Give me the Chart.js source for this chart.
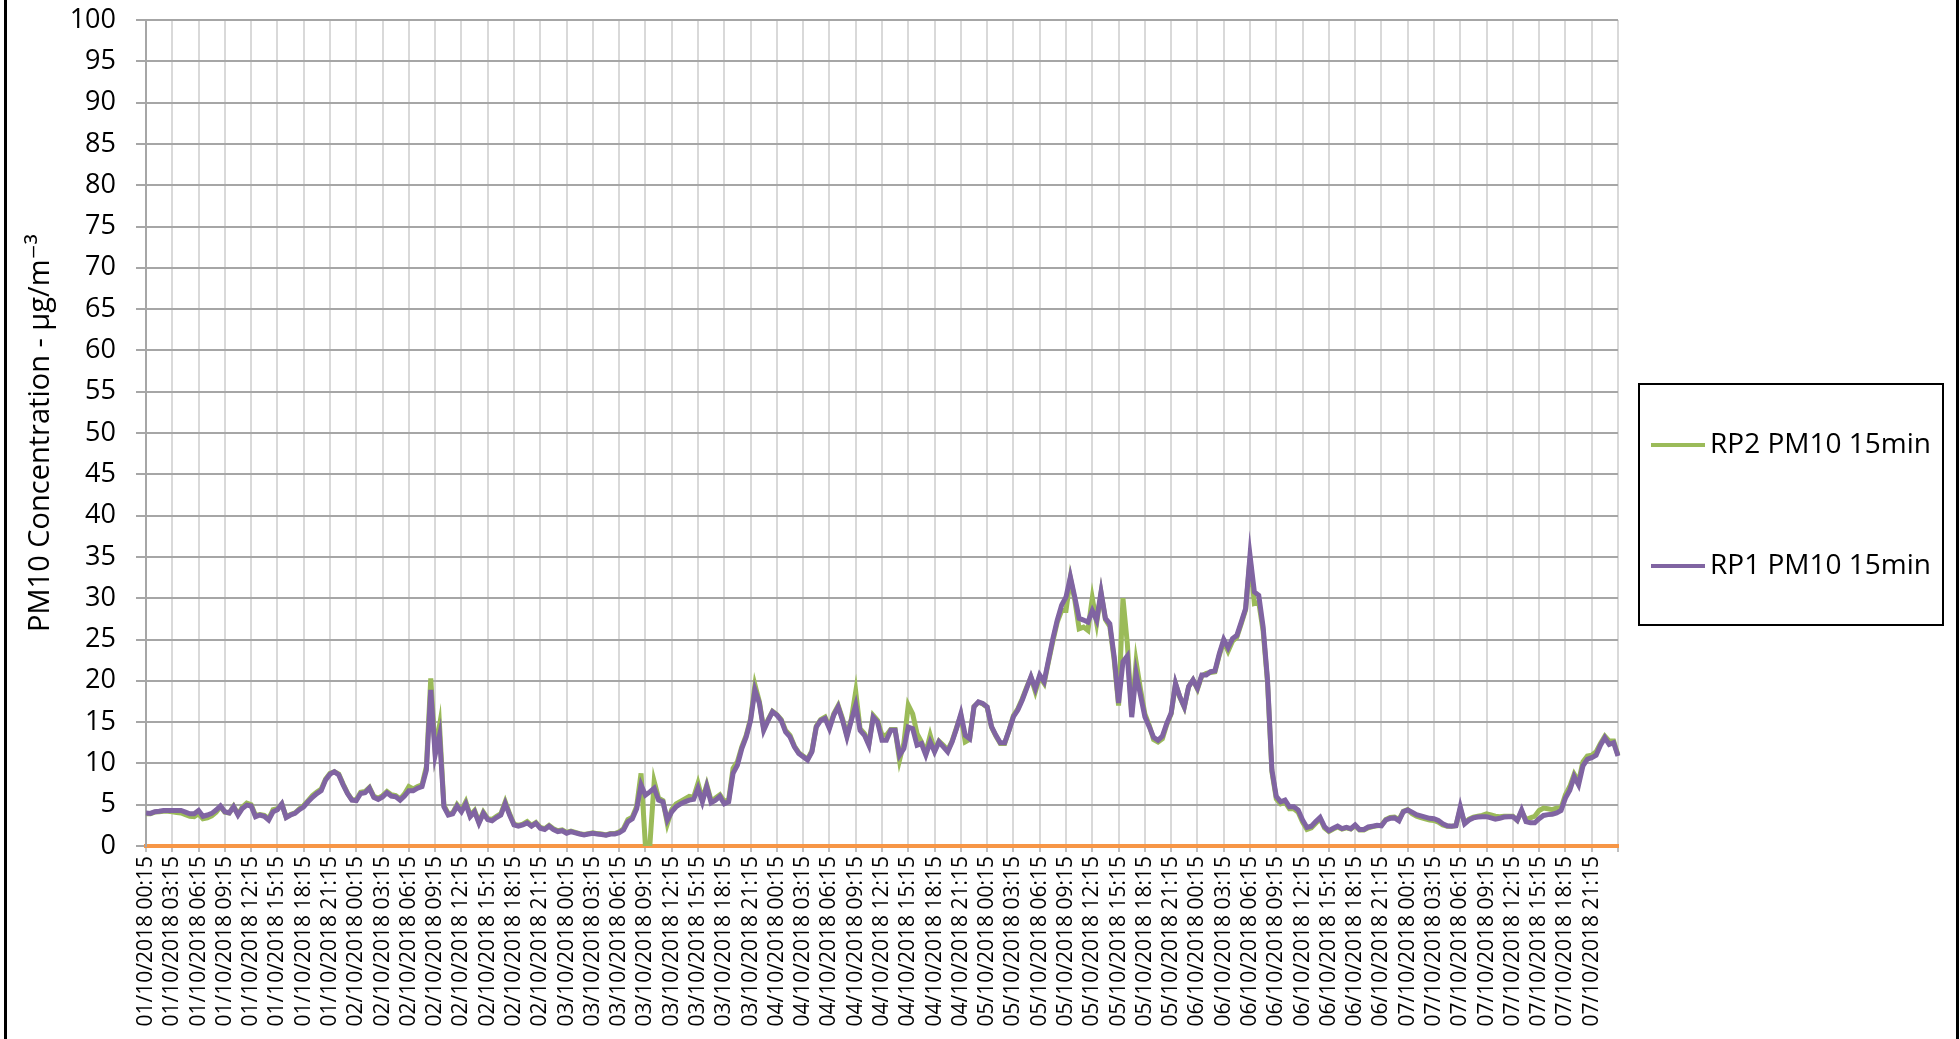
<!DOCTYPE html>
<html>
<head>
<meta charset="utf-8">
<script src="https://cdn.jsdelivr.net/npm/chart.js@4.4.1/dist/chart.umd.min.js"></script>
<style>
html, body { margin: 0; padding: 0; background: #fff; }
</style>
</head>
<body>
<canvas id="pmChart" width="1960" height="1039"></canvas>
<script>
// dias del periodo (lecturas cada 30 min desde las 00:15)
var dias = ["01/10/2018", "02/10/2018", "03/10/2018", "04/10/2018", "05/10/2018", "06/10/2018", "07/10/2018"];
var diaFinal = "08/10/2018 00:15";

// RP1 PM10 15min (morado)
var rp1Valores = [
  4.0, 3.95, 4.15, 4.2, 4.3, 4.3, 4.3, 4.3, 4.3, 4.1,
  3.9, 3.9, 4.3, 3.6, 3.75, 3.95, 4.35, 4.85, 4.15, 4.0,
  4.75, 3.75, 4.55, 4.95, 4.85, 3.55, 3.75, 3.6, 3.15, 4.15,
  4.4, 5.1, 3.45, 3.75, 3.95, 4.4, 4.75, 5.35, 5.9, 6.35,
  6.7, 8.0, 8.7, 9.0, 8.6, 7.4, 6.35, 5.55, 5.5, 6.35,
  6.45, 7.0, 5.9, 5.65, 5.95, 6.45, 6.05, 5.95, 5.55, 6.05,
  6.7, 6.7, 7.0, 7.2, 9.2, 18.9, 11.0, 13.4, 4.75, 3.75,
  3.9, 4.85, 4.15, 5.1, 3.55, 4.15, 2.75, 3.95, 3.2, 3.05,
  3.45, 3.75, 5.15, 3.75, 2.55, 2.4, 2.55, 2.8, 2.4, 2.75,
  2.15, 2.0, 2.4, 2.0, 1.75, 1.85, 1.55, 1.75, 1.6, 1.45,
  1.35, 1.45, 1.55, 1.45, 1.4, 1.3, 1.45, 1.45, 1.6, 1.95,
  2.95, 3.3, 4.5, 7.4, 6.15, 6.55, 7.0, 5.55, 5.35, 3.15,
  4.15, 4.75, 5.1, 5.35, 5.55, 5.65, 7.0, 5.35, 7.2, 5.25,
  5.55, 6.0, 5.1, 5.35, 8.8, 9.8, 11.8, 13.2, 15.2, 18.9,
  17.3, 14.0, 15.2, 16.25, 15.85, 15.2, 13.8, 13.2, 12.0, 11.2,
  10.8, 10.4, 11.4, 14.4, 15.2, 15.45, 14.2, 15.85, 16.85, 15.2,
  13.2, 15.2, 17.05, 14.0, 13.4, 12.2, 15.6, 15.0, 12.8, 12.8,
  14.0, 14.0, 11.0, 11.8, 14.4, 14.2, 12.2, 12.4, 11.0, 12.6,
  11.4, 12.6, 12.0, 11.4, 12.6, 14.2, 16.0, 13.4, 13.0, 16.85,
  17.45, 17.25, 16.85, 14.45, 13.4, 12.5, 12.5, 14.0, 15.65, 16.45,
  17.65, 19.05, 20.5, 19.05, 20.7, 19.9, 22.5, 25.1, 27.35, 29.15,
  30.15, 32.6, 30.15, 27.55, 27.35, 27.1, 28.5, 27.35, 30.75, 27.55,
  26.9, 22.9, 17.3, 22.3, 23.0, 15.6, 20.9, 18.25, 15.65, 14.45,
  13.15, 12.8, 13.3, 14.85, 16.1, 19.7, 18.05, 16.85, 19.3, 20.1,
  19.1, 20.7, 20.7, 21.1, 21.2, 23.3, 25.0, 24.0, 25.1, 25.5,
  27.1, 28.75, 35.2, 30.75, 30.35, 26.5, 20.1, 9.2, 6.0, 5.35,
  5.55, 4.75, 4.75, 4.35, 3.15, 2.25, 2.4, 2.95, 3.45, 2.35,
  1.85, 2.15, 2.4, 2.1, 2.25, 2.1, 2.55, 2.0, 2.0, 2.3,
  2.4, 2.5, 2.45, 3.15, 3.35, 3.4, 3.05, 4.15, 4.35, 4.1,
  3.8, 3.65, 3.5, 3.35, 3.3, 3.1, 2.7, 2.45, 2.4, 2.45,
  4.75, 2.7, 3.15, 3.4, 3.5, 3.55, 3.55, 3.4, 3.25, 3.35,
  3.5, 3.55, 3.55, 3.1, 4.35, 2.95, 2.8, 2.8, 3.3, 3.7,
  3.8, 3.85, 4.0, 4.3, 5.8, 6.75, 8.4, 7.4, 9.7, 10.5,
  10.7, 11.0, 12.2, 13.1, 12.3, 12.5, 10.9
];

// RP2 PM10 15min (verde)
var rp2Valores = [
  3.9, 3.9, 4.1, 4.15, 4.2, 4.2, 4.15, 4.05, 4.0, 3.8,
  3.6, 3.55, 3.9, 3.3, 3.4, 3.65, 4.1, 4.75, 4.1, 4.0,
  4.8, 3.85, 4.7, 5.2, 5.0, 3.7, 3.8, 3.7, 3.3, 4.4,
  4.5, 5.1, 3.5, 3.8, 4.0, 4.5, 4.9, 5.5, 6.1, 6.55,
  6.9, 8.1, 8.8, 9.0, 8.7, 7.5, 6.4, 5.6, 5.6, 6.5,
  6.6, 7.1, 6.0, 5.8, 6.1, 6.6, 6.2, 6.1, 5.7, 6.3,
  7.2, 6.9, 7.2, 7.4, 9.6, 20.3, 11.5, 14.6, 4.9, 3.9,
  4.0, 5.0, 4.3, 5.35, 3.7, 4.3, 2.9, 4.1, 3.3, 3.2,
  3.6, 3.9, 5.35, 3.9, 2.65, 2.5, 2.65, 2.95, 2.5, 2.85,
  2.25, 2.1, 2.5, 2.1, 1.85, 1.95, 1.65, 1.8, 1.65, 1.5,
  1.4, 1.5, 1.6, 1.5, 1.45, 1.35, 1.5, 1.5, 1.7, 2.1,
  3.2, 3.5, 4.8, 8.8, 0, 0, 7.8, 5.8, 5.5, 2.7,
  4.4, 5.1, 5.4, 5.7, 6.0, 5.9, 7.6, 5.6, 7.4, 5.5,
  5.8, 6.2, 5.4, 5.6, 9.4, 10.2, 12.0, 13.4, 15.4, 19.5,
  17.5, 14.2, 15.3, 16.3, 15.9, 15.3, 14.0, 13.4, 12.1, 11.3,
  10.9, 10.5, 11.5, 14.5, 15.3, 15.6, 14.4, 16.0, 17.0, 15.4,
  13.4, 15.4, 18.7, 14.2, 13.6, 12.4, 15.8, 15.2, 13.4, 13.4,
  14.1, 14.1, 10.4, 12.5, 17.05, 16.0, 13.6, 12.6, 11.3, 13.4,
  11.6, 12.7, 12.2, 11.6, 12.7, 14.3, 15.8, 12.6, 12.9, 16.9,
  17.4, 17.2, 16.8, 14.4, 13.3, 12.4, 12.4, 14.0, 15.8, 16.6,
  17.8, 19.2, 20.4, 18.7, 20.5, 19.7, 22.3, 24.8, 27.1, 28.5,
  28.5, 32.4, 29.8, 26.3, 26.5, 26.1, 30.0, 27.0, 30.6, 27.4,
  26.6, 22.5, 17.0, 30.0, 24.5, 16.0, 22.3, 19.0, 16.0, 14.6,
  12.9, 12.6, 13.0, 14.7, 16.0, 19.6, 18.0, 16.8, 19.3, 20.1,
  19.0, 20.6, 20.9, 21.0, 21.1, 23.1, 24.8, 23.6, 24.8, 25.3,
  26.9, 28.6, 34.8, 29.35, 29.5, 26.0, 19.8, 9.0, 5.7, 5.1,
  5.3, 4.5, 4.5, 4.1, 2.9, 2.0, 2.2, 2.75, 3.3, 2.2,
  1.75, 2.05, 2.3, 2.05, 2.2, 2.05, 2.45, 1.95, 1.95, 2.2,
  2.35, 2.45, 2.5, 3.2, 3.45, 3.5, 3.2, 4.2, 4.4, 3.9,
  3.6, 3.45, 3.3, 3.15, 3.1, 2.9, 2.55, 2.4, 2.4, 2.45,
  4.5, 2.8, 3.25, 3.5, 3.6, 3.7, 3.9, 3.75, 3.6, 3.55,
  3.6, 3.6, 3.6, 3.1, 4.2, 3.2, 3.4, 3.6, 4.3, 4.6,
  4.5, 4.4, 4.6, 4.6, 6.2, 7.2, 8.7, 7.8, 10.2, 10.9,
  11.0, 11.4, 12.4, 13.3, 12.7, 12.7, 11.0
];

// etiquetas del eje x: una cada media hora
var etiquetas = [];
for (var d = 0; d < dias.length; d++) {
  for (var m = 0; m < 48; m++) {
    var minutos = 15 + m * 30;
    var hh = Math.floor(minutos / 60);
    var mm = minutos % 60;
    etiquetas.push(dias[d] + " " + (hh < 10 ? "0" : "") + hh + ":" + (mm < 10 ? "0" : "") + mm);
  }
}
etiquetas.push(diaFinal);

var fuente = "'Open Sans', 'DejaVu Sans', sans-serif";
Chart.defaults.font.family = fuente;
Chart.defaults.color = "#000";

// marco negro a izquierda y derecha + fondo blanco
var marcoPlugin = {
  id: 'marco',
  beforeDraw: function(chart) {
    var ctx = chart.ctx;
    ctx.save();
    ctx.fillStyle = '#fff';
    ctx.fillRect(0, 0, chart.width, chart.height);
    ctx.restore();
  },
  afterDraw: function(chart) {
    var ctx = chart.ctx;
    ctx.save();
    ctx.strokeStyle = '#000';
    ctx.lineWidth = 3;
    ctx.beginPath();
    ctx.moveTo(5.5, 0); ctx.lineTo(5.5, chart.height);
    ctx.moveTo(chart.width - 2.5, 0); ctx.lineTo(chart.width - 2.5, chart.height);
    ctx.stroke();
    ctx.restore();
  }
};

// leyenda con caja, a la derecha
var leyendaPlugin = {
  id: 'leyendaCaja',
  afterDraw: function(chart) {
    var ctx = chart.ctx;
    var x0 = chart.chartArea.right + 21;
    var y0 = 384;
    ctx.save();
    ctx.strokeStyle = '#000';
    ctx.lineWidth = 2;
    ctx.strokeRect(x0, y0, 304, 241);
    ctx.font = "28px " + fuente;
    ctx.textBaseline = 'middle';
    ctx.fillStyle = '#000';
    chart.data.datasets.forEach(function(ds, i) {
      var y = 445 + i * 121;
      ctx.strokeStyle = ds.borderColor;
      ctx.lineWidth = 4;
      ctx.beginPath();
      ctx.moveTo(x0 + 12, y);
      ctx.lineTo(x0 + 66, y);
      ctx.stroke();
      ctx.fillText(ds.label, x0 + 71, y);
    });
    ctx.restore();
  }
};

var ctx = document.getElementById('pmChart').getContext('2d');
var pmChart = new Chart(ctx, {
  type: 'line',
  data: {
    labels: etiquetas,
    datasets: [
      {
        label: 'RP2 PM10 15min',
        data: rp2Valores,
        borderColor: '#9BBB59',
        backgroundColor: '#9BBB59',
        borderWidth: 5,
        pointRadius: 0,
        tension: 0,
        order: 2
      },
      {
        label: 'RP1 PM10 15min',
        data: rp1Valores,
        borderColor: '#8064A2',
        backgroundColor: '#8064A2',
        borderWidth: 5,
        pointRadius: 0,
        tension: 0,
        order: 1
      }
    ]
  },
  options: {
    responsive: false,
    animation: false,
    devicePixelRatio: 1,
    layout: {
      padding: { left: 0, top: 20, right: 342, bottom: 0 }
    },
    plugins: {
      legend: { display: false },
      tooltip: { enabled: false }
    },
    scales: {
      x: {
        type: 'category',
        offset: false,
        afterFit: function(scale) { scale.height = 193; },
        ticks: {
          autoSkip: false,
          maxRotation: 90,
          minRotation: 90,
          padding: 4,
          font: { size: 21 },
          color: '#000',
          callback: function(val, i) {
            if (i % 6 !== 0) return null;
            if (i >= etiquetas.length - 1) return '';
            return etiquetas[i];
          }
        },
        grid: {
          color: '#d9d9d9',
          lineWidth: 2,
          tickLength: 6,
          tickColor: '#bfbfbf'
        },
        border: { display: true, color: '#F79646', width: 4 }
      },
      y: {
        min: 0,
        max: 100,
        afterFit: function(scale) {
          scale.width = 146;
          scale.paddingTop = 0;
        },
        ticks: {
          stepSize: 5,
          autoSkip: false,
          padding: 20,
          font: { size: 27 },
          color: '#000'
        },
        grid: {
          color: function(c) { return c.tick && c.tick.value === 0 ? 'rgba(0,0,0,0)' : '#a6a6a6'; },
          tickColor: '#a6a6a6',
          lineWidth: 2,
          tickLength: 10
        },
        border: { display: true, color: '#a6a6a6', width: 2 },
        title: {
          display: true,
          text: 'PM10 Concentration - \u00b5g/m\u207b\u00b3',
          font: { size: 29 },
          color: '#000',
          padding: { top: 23, bottom: 0 }
        }
      }
    }
  },
  plugins: [marcoPlugin, leyendaPlugin]
});
</script>
</body>
</html>
